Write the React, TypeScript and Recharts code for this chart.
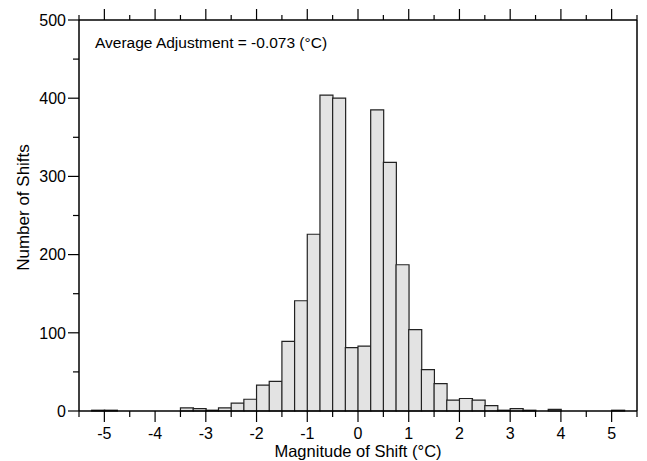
import { Bar, BarChart, XAxis, YAxis } from "recharts";

// bin centres (0.25 °C wide bins) and counts
const binCenters = [
  -5.375, -5.125, -4.875, -4.625, -4.375, -4.125, -3.875, -3.625, -3.375, -3.125, -2.875,
  -2.625, -2.375, -2.125, -1.875, -1.625, -1.375, -1.125, -0.875, -0.625, -0.375, -0.125,
  0.125, 0.375, 0.625, 0.875, 1.125, 1.375, 1.625, 1.875, 2.125, 2.375, 2.625, 2.875,
  3.125, 3.375, 3.625, 3.875, 4.125, 4.375, 4.625, 4.875, 5.125, 5.375,
];
const shiftCounts = [
  0, 1, 1, 0, 0, 0, 0, 0, 4, 3, 1, 4, 10, 15, 33, 38, 89, 141, 226, 404, 400, 81,
  83, 385, 318, 187, 104, 53, 35, 14, 16, 14, 7, 1, 3, 1, 0, 2, 0, 0, 0, 0, 1, 0,
];
const xTicks = [
  -5.5, -5, -4.5, -4, -3.5, -3, -2.5, -2, -1.5, -1, -0.5, 0, 0.5, 1, 1.5, 2, 2.5, 3, 3.5,
  4, 4.5, 5, 5.5,
];
const yTicks = [0, 50, 100, 150, 200, 250, 300, 350, 400, 450, 500];

const data = binCenters.map((mid, i) => ({ mid, count: shiftCounts[i] }));

const font = "'Liberation Sans', Arial, Helvetica, sans-serif";

function BottomTick(props: any) {
  const { x, y, payload } = props;
  const major = Number.isInteger(payload.value);
  return (
    <g>
      <line x1={x} x2={x} y1={y} y2={y + (major ? 11 : 6)} stroke="#000" strokeWidth={1.2} />
      {major && (
        <text x={x} y={y + 28} textAnchor="middle" fontSize={16} fontFamily={font} fill="#000">
          {payload.value}
        </text>
      )}
    </g>
  );
}

function TopTick(props: any) {
  const { x, y, payload } = props;
  const major = Number.isInteger(payload.value);
  return <line x1={x} x2={x} y1={y} y2={y - (major ? 11 : 5)} stroke="#000" strokeWidth={1.2} />;
}

function LeftTick(props: any) {
  const { x, y, payload } = props;
  const major = payload.value % 100 === 0;
  return (
    <g>
      <line x1={x - (major ? 11 : 6)} x2={x} y1={y} y2={y} stroke="#000" strokeWidth={1.2} />
      {major && (
        <text x={x - 13} y={y} dy="0.36em" textAnchor="end" fontSize={16} fontFamily={font} fill="#000">
          {payload.value}
        </text>
      )}
    </g>
  );
}

function RightTick(props: any) {
  const { x, y, payload } = props;
  const major = payload.value % 100 === 0;
  return <line x1={x} x2={x + (major ? 10 : 5)} y1={y} y2={y} stroke="#000" strokeWidth={1.2} />;
}

export default function App() {
  const axisLine = { stroke: "#000", strokeWidth: 1.5 };
  return (
    <div style={{ position: "fixed", left: 0, top: 0, width: 647, height: 461, background: "#fff" }}>
      <BarChart
        width={647}
        height={461}
        data={data}
        barCategoryGap={0}
        margin={{ top: 19, right: 9, bottom: 0, left: 0 }}
      >
        <XAxis xAxisId="cat" dataKey="mid" hide height={0} />
        <XAxis
          xAxisId="num"
          dataKey="mid"
          type="number"
          domain={[-5.5, 5.5]}
          allowDataOverflow
          ticks={xTicks}
          interval={0}
          height={50}
          tickSize={0}
          tickMargin={0}
          tickLine={false}
          axisLine={axisLine}
          tick={<BottomTick />}
          label={{
            content: (p: any) => {
              const vb = p.viewBox;
              return (
                <text x={vb.x + vb.width / 2} y={vb.y + 46} textAnchor="middle" fontSize={16.5} fontFamily={font} fill="#000">
                  Magnitude of Shift (°C)
                </text>
              );
            },
          }}
        />
        <XAxis
          xAxisId="top"
          dataKey="mid"
          type="number"
          orientation="top"
          domain={[-5.5, 5.5]}
          allowDataOverflow
          ticks={xTicks}
          interval={0}
          height={1}
          tickSize={0}
          tickMargin={0}
          tickLine={false}
          axisLine={axisLine}
          tick={<TopTick />}
        />
        <YAxis
          yAxisId="left"
          domain={[0, 500]}
          ticks={yTicks}
          interval={0}
          width={79}
          tickSize={0}
          tickMargin={0}
          tickLine={false}
          axisLine={axisLine}
          tick={<LeftTick />}
          label={{
            content: (p: any) => {
              const vb = p.viewBox;
              const cx = vb.x + 23;
              const cy = vb.y + vb.height / 2 - 8;
              return (
                <text
                  x={cx}
                  y={cy}
                  transform={`rotate(-90 ${cx} ${cy})`}
                  textAnchor="middle"
                  dominantBaseline="central"
                  fontSize={17}
                  fontFamily={font}
                  fill="#000"
                >
                  Number of Shifts
                </text>
              );
            },
          }}
        />
        <YAxis
          yAxisId="right"
          orientation="right"
          domain={[0, 500]}
          ticks={yTicks}
          interval={0}
          width={1}
          tickSize={0}
          tickMargin={0}
          tickLine={false}
          axisLine={axisLine}
          tick={<RightTick />}
        />
        <Bar
          xAxisId="cat"
          yAxisId="left"
          dataKey="count"
          fill="#e3e3e3"
          stroke="#222"
          strokeWidth={1.2}
          isAnimationActive={false}
        />
      </BarChart>
      <div
        style={{
          position: "absolute",
          left: 95,
          top: 35,
          fontSize: 15.5,
          lineHeight: "15px",
          fontFamily: font,
          color: "#000",
          whiteSpace: "nowrap",
        }}
      >
        Average Adjustment = -0.073 (°C)
      </div>
    </div>
  );
}
